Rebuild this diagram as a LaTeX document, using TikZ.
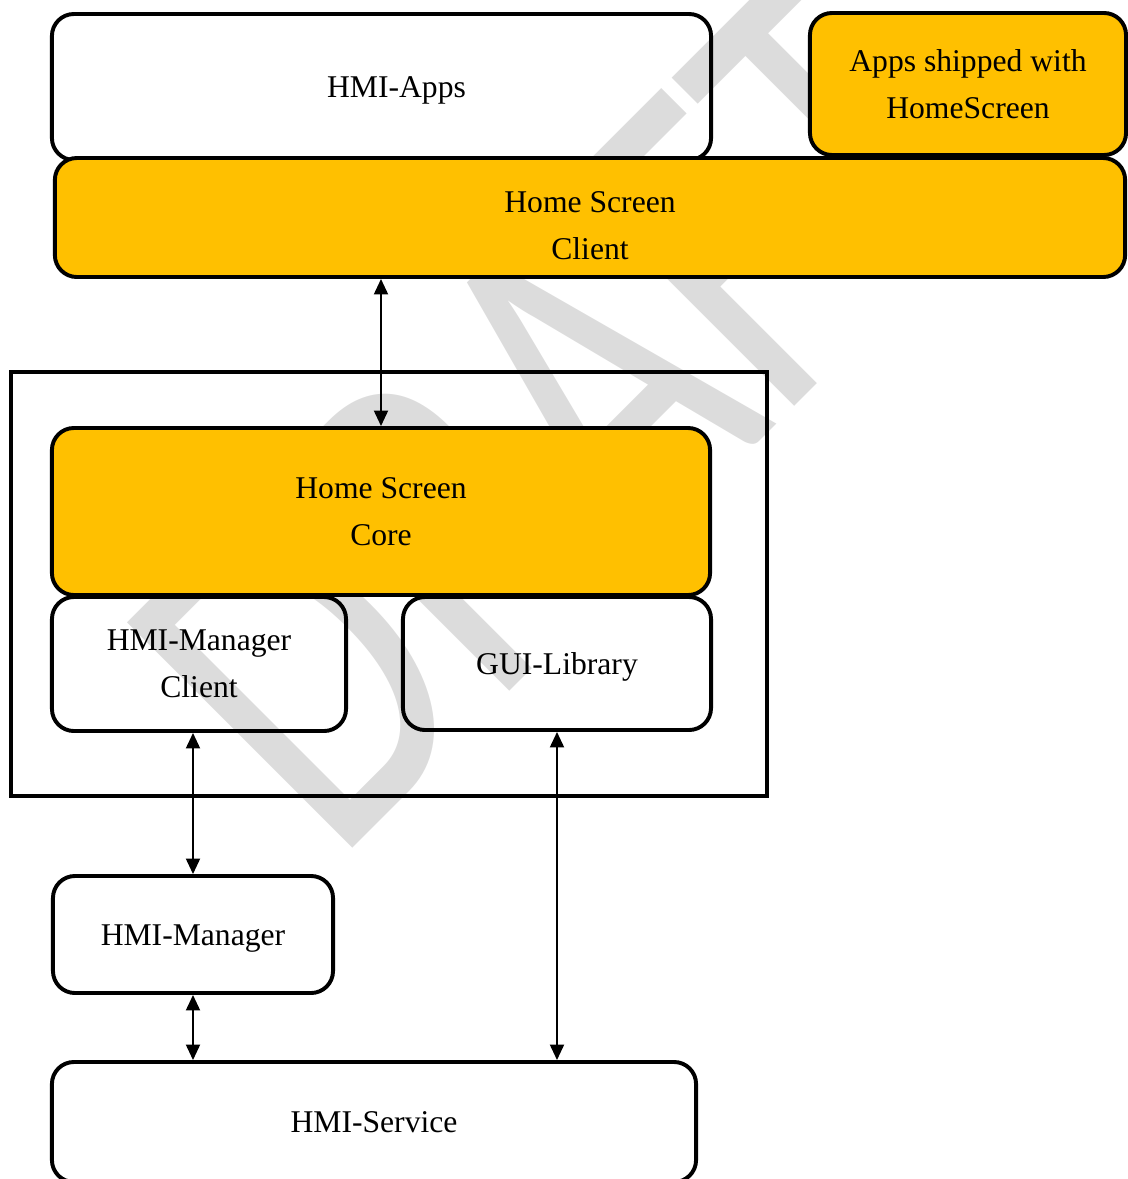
\documentclass[tikz,border=0pt]{standalone}
\usepackage{fontspec}
\setmainfont{Liberation Serif}
\newfontfamily\wmfont{Carlito}
\usetikzlibrary{arrows.meta}
\definecolor{hsyellow}{RGB}{255,192,0}
\definecolor{wmgray}{RGB}{220,220,220}

\begin{document}
\begin{tikzpicture}[x=0.025cm, y=-0.025cm,
  box/.style={draw, line width=2.8pt, rounded corners=0.55cm, align=center,
    inner sep=0pt, font=\fontsize{22.5}{33.8}\selectfont},
  hsbox/.style={box, fill=hsyellow},
  oneline/.style={text height=20pt, text depth=5pt},
  link/.style={{Triangle[length=11pt,width=10pt]}-{Triangle[length=11pt,width=10pt]},
    line width=1.3pt}]
  \useasboundingbox (0,0) rectangle (1128,1179);
  % Watermark
  \node[wmgray, font=\wmfont\fontsize{256}{256}\selectfont, inner sep=0pt,
    anchor=base, rotate=45, yscale=1.38, transform shape] (draft) at (677,524) {DRAFT};
  % Apps and client
  \node[box, oneline, minimum width=16.475cm, minimum height=3.65cm] (apps) at (381.5,87)
    {\hspace*{0.75cm}HMI-Apps};
  \node[hsbox, minimum width=7.9cm, minimum height=3.55cm] (shipped) at (968,84)
    {Apps shipped with\\HomeScreen};
  \node[hsbox, minimum width=26.75cm, minimum height=2.975cm] (client) at (590,217.5)
    {\rule{0pt}{26.8pt}Home Screen\\Client};
  % Home screen frame
  \node[draw, line width=2.8pt, minimum width=18.9cm, minimum height=10.6cm] (frame) at (389,584) {};
  \node[box, minimum width=7.35cm, minimum height=3.35cm] (hmclient) at (199,664)
    {HMI-Manager\\Client};
  \node[box, oneline, minimum width=7.7cm, minimum height=3.325cm] (gui) at (557,663.5) {GUI-Library};
  \node[hsbox, minimum width=16.45cm, minimum height=4.175cm] (core) at (381,511.5)
    {Home Screen\\Core};
  % Services
  \node[box, oneline, minimum width=7cm, minimum height=2.925cm] (hmgr) at (193,934.5) {HMI-Manager};
  \node[box, oneline, minimum width=16.1cm, minimum height=3cm] (service) at (374,1122) {HMI-Service};
  % Links
  \draw[link] (core.north |- client.south) -- (core.north);
  \draw[link] (hmgr.north |- hmclient.south) -- (hmgr.north);
  \draw[link] (hmgr.south) -- (hmgr.south |- service.north);
  \draw[link] (gui.south) -- (gui.south |- service.north);
\end{tikzpicture}
\end{document}
